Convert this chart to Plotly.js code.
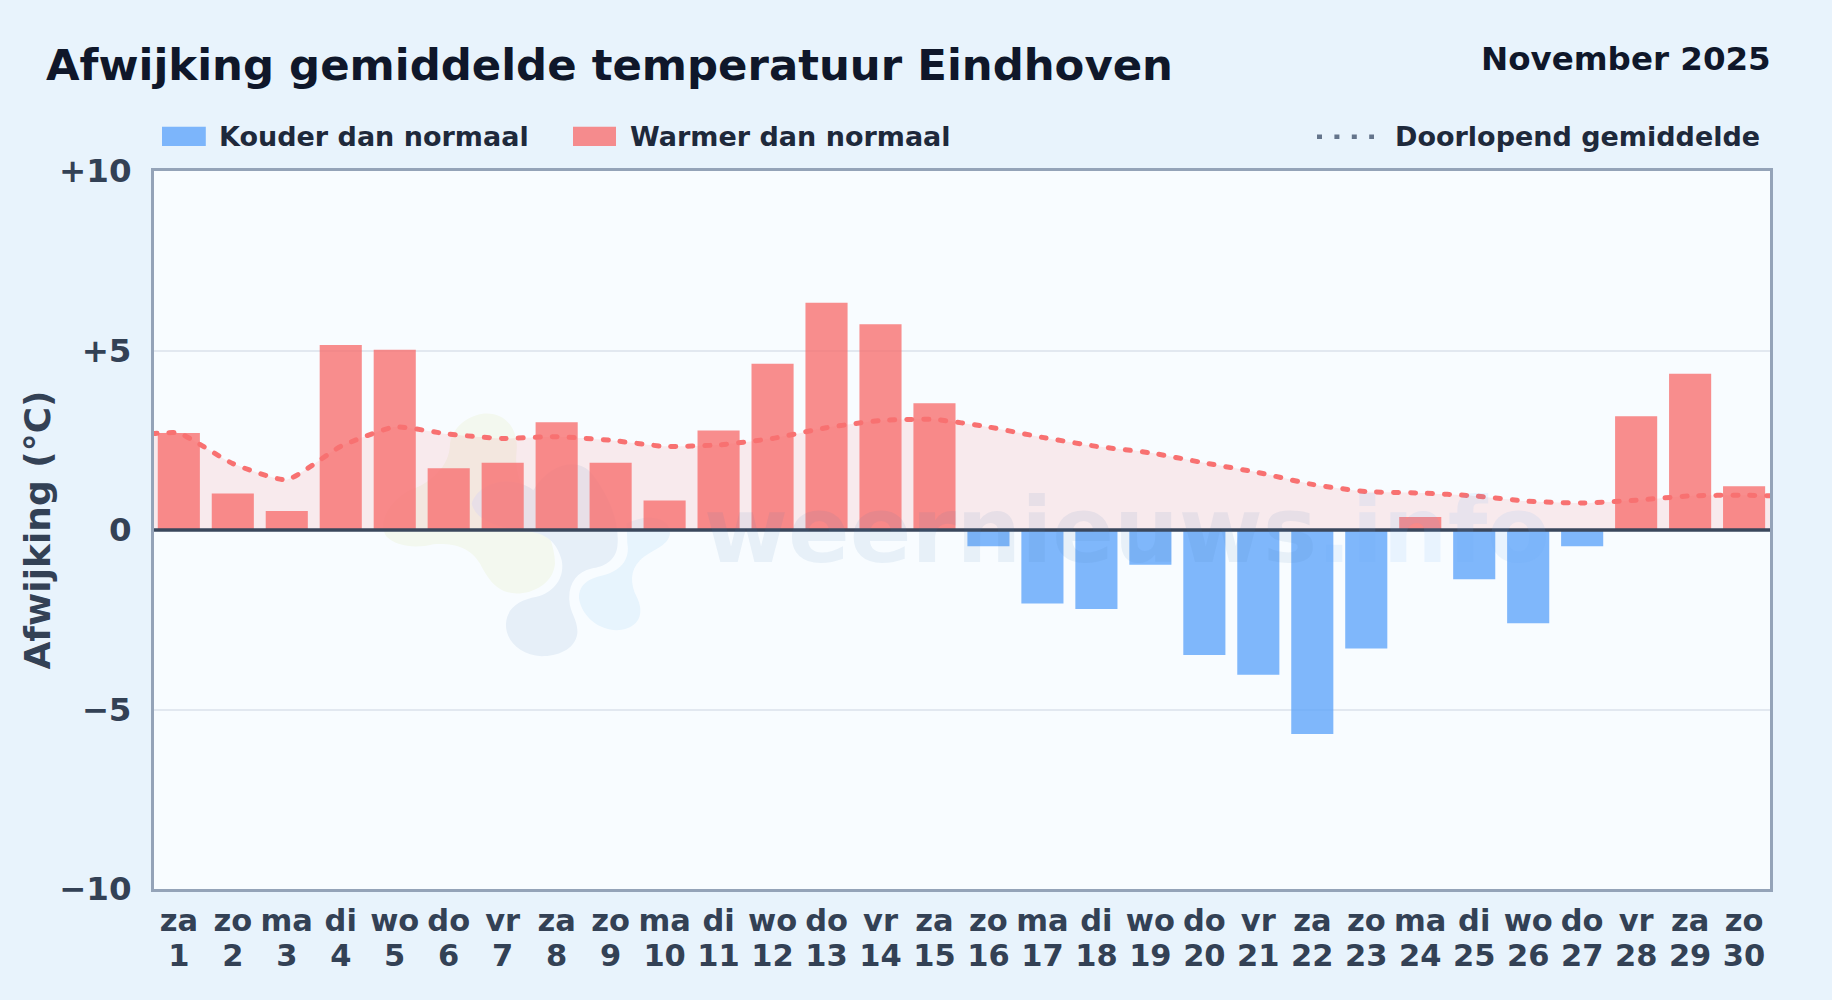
<!DOCTYPE html>
<html><head><meta charset="utf-8">
<script src="https://cdn.plot.ly/plotly-3.0.1.min.js"></script>
<style>html,body{margin:0;padding:0;background:#e8f3fc;overflow:hidden}#c{width:1832px;height:1000px}</style>
</head><body><div id="c"></div>
<script>
const days=[1,2,3,4,5,6,7,8,9,10,11,12,13,14,15,16,17,18,19,20,21,22,23,24,25,26,27,28,29,30];
const weekdays=["za","zo","ma","di","wo","do","vr","za","zo","ma","di","wo","do","vr","za","zo","ma","di","wo","do","vr","za","zo","ma","di","wo","do","vr","za","zo"];
const deviations=[2.7,1.02,0.53,5.15,5.02,1.72,1.87,3.0,1.87,0.82,2.77,4.63,6.33,5.73,3.53,-0.45,-2.05,-2.2,-0.97,-3.48,-4.03,-5.68,-3.3,0.36,-1.37,-2.6,-0.45,3.17,4.35,1.22];
const meanDays=[0.5,1,2,3,4,5,6,7,8,9,10,11,12,13,14,15,16,17,18,19,20,21,22,23,24,25,26,27,28,29,30,30.5];
const runningMean=[2.68,2.7,1.85,1.4,2.33,2.87,2.67,2.55,2.6,2.5,2.33,2.37,2.55,2.85,3.05,3.08,2.87,2.58,2.33,2.15,1.87,1.6,1.27,1.07,1.03,0.95,0.8,0.75,0.83,0.95,0.97,0.95];
const yTickVals=[-10,-5,0,5,10];
const yTickText=["−10","−5","0","+5","+10"];
const labels={title:"Afwijking gemiddelde temperatuur Eindhoven",period:"November 2025",cold:"Kouder dan normaal",warm:"Warmer dan normaal",mean:"Doorlopend gemiddelde",yaxis:"Afwijking (°C)"};

const F="DejaVu Sans";
const L=154,R=1770,T=171,B=888.7;
const xp=p=>(p-L)/(R-L), yp=p=>(B-p)/(B-T);
const wx=[],wy=[],cx=[],cy=[];
deviations.forEach((v,i)=>{if(v>=0){wx.push(days[i]);wy.push(v);}else{cx.push(days[i]);cy.push(v);}});

function blob(d,color){
  const path=d.replace(/(-?\d+\.?\d*) (-?\d+\.?\d*)/g,(m,a,b)=>xp(370+a/3).toFixed(5)+" "+yp(400+b/3).toFixed(5));
  return {type:"path",xref:"paper",yref:"paper",layer:"below",path,fillcolor:color,line:{width:0}};
}
const shapes=[
 blob("M 240 130 C 250 70 310 40 350 40 C 410 40 445 90 440 150 C 435 200 440 240 480 300 C 520 360 555 430 555 490 C 550 550 490 580 440 580 C 380 580 350 530 330 490 C 300 440 250 428 190 432 C 140 445 80 440 50 410 C 20 370 60 300 120 270 C 180 250 240 200 240 130 Z","#f3f8ef"),
 blob("M 305 310 C 330 240 430 225 490 270 C 540 190 620 170 665 220 C 720 290 750 370 742 440 C 735 485 700 500 665 505 C 620 515 595 550 598 600 C 600 640 625 660 622 700 C 615 750 560 768 515 768 C 450 765 405 720 408 670 C 412 620 450 600 500 590 C 555 575 585 530 575 480 C 560 420 520 400 480 395 C 400 385 320 370 305 310 Z","#e6eff8"),
 blob("M 770 370 C 830 340 900 350 900 400 C 895 440 840 450 810 480 C 780 510 780 550 800 590 C 820 630 815 670 770 685 C 710 705 640 660 628 600 C 622 560 650 535 700 525 C 760 510 780 470 772 430 Z","#e7f4fd"),
 {type:"rect",xref:"paper",yref:"paper",x0:xp(162),x1:xp(205.8),y0:yp(126.7),y1:yp(146),fillcolor:"rgba(96,165,250,0.8)",line:{width:0}},
 {type:"rect",xref:"paper",yref:"paper",x0:xp(573),x1:xp(616),y0:yp(126.7),y1:yp(146),fillcolor:"rgba(248,113,113,0.8)",line:{width:0}},
 {type:"line",xref:"paper",yref:"paper",x0:xp(1317),x1:xp(1374),y0:yp(136.7),y1:yp(136.7),line:{color:"#64748b",width:4.5,dash:"5px,12.4px"}},
 {type:"line",xref:"paper",yref:"y",x0:0,x1:1,y0:0,y1:0,layer:"above",line:{color:"#3a475c",width:3.7}}
];
const ann=(text,x,y,size,color,anchor,extra)=>Object.assign({xref:"paper",yref:"paper",x:xp(x),y:yp(y),text,showarrow:false,xanchor:anchor,yanchor:"middle",font:{family:F,size,color,weight:700}},extra||{});
const annotations=[
 ann('<span style="color:rgba(70,120,180,0.09)">weernieuws</span><span style="color:rgba(96,165,250,0.1)">.info</span>',1127,530,91,"#000","center"),
 ann(labels.period,1773.5,59,32.5,"#0f172a","right"),
 ann(labels.cold,217,137,27,"#1e293b","left"),
 ann(labels.warm,628,137,27,"#1e293b","left"),
 ann(labels.mean,1393,137,27,"#1e293b","left")
];
const traces=[
 {type:"bar",name:labels.cold,x:cx,y:cy,width:0.78,marker:{color:"rgba(96,165,250,0.8)",line:{width:0}}},
 {type:"bar",name:labels.warm,x:wx,y:wy,width:0.78,marker:{color:"rgba(248,113,113,0.8)",line:{width:0}}},
 {type:"scatter",mode:"lines",name:labels.mean,x:meanDays,y:runningMean,fill:"tozeroy",fillcolor:"rgba(248,113,113,0.13)",
  line:{color:"#f87171",width:5,shape:"spline",smoothing:0.5,dash:"5px,12px"}}
];
const layout={
 width:1832,height:1000,showlegend:false,barmode:"overlay",
 paper_bgcolor:"#e8f3fc",plot_bgcolor:"#f8fcff",
 margin:{l:L,r:1832-R,t:T,b:1000-B,pad:0},
 font:{family:F},
 title:{text:labels.title,x:46/1832,xref:"container",xanchor:"left",y:1-65/1000,yanchor:"middle",font:{family:F,size:43.4,color:"#0f172a",weight:700}},
 xaxis:{range:[0.54,30.48],tickmode:"array",tickvals:days,ticktext:days.map((d,i)=>weekdays[i]+"<br>"+d),
  tickangle:0,showgrid:false,zeroline:false,showline:true,mirror:true,linecolor:"#94a3b8",linewidth:3,ticks:"",ticklabelstandoff:4.5,
  tickfont:{family:F,size:30.5,color:"#334155",weight:700}},
 yaxis:{range:[-10,10],tickmode:"array",tickvals:yTickVals,ticktext:yTickText,showgrid:true,gridcolor:"#e2e8f0",gridwidth:2,zeroline:false,
  showline:true,mirror:true,linecolor:"#94a3b8",linewidth:3,ticks:"",ticklabelstandoff:13,
  tickfont:{family:F,size:32.5,color:"#334155",weight:700},
  title:{text:labels.yaxis,standoff:0,font:{family:F,size:36,color:"#334155",weight:700}}},
 shapes,annotations
};
Plotly.newPlot("c",traces,layout,{staticPlot:true,displayModeBar:false}).then(gd=>{
 gd.querySelectorAll(".scatterlayer .js-line").forEach(p=>p.style.strokeLinecap="round");
 gd.querySelectorAll(".xtick text").forEach(t=>{
   const base=parseFloat(t.getAttribute("y"));
   t.querySelectorAll("tspan.line").forEach(s=>{if(/\d/.test(s.textContent))s.setAttribute("y",(base-5)+"");});
   t.setAttribute("transform","translate(0,2.3) "+(t.getAttribute("transform")||""));
 });
 const yt=gd.querySelector(".ytitle");
 if(yt)yt.setAttribute("transform","translate(2.5,0) "+(yt.getAttribute("transform")||""));
});
</script></body></html>
